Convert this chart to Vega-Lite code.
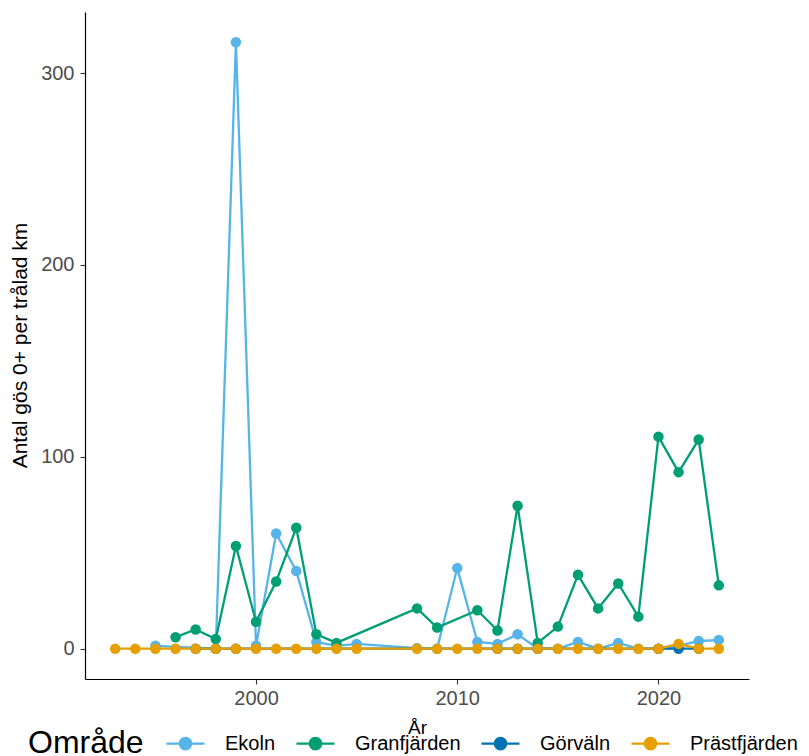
{
  "$schema": "https://vega.github.io/schema/vega-lite/v6.json",
  "width": 664,
  "height": 667,
  "autosize": {"type": "none"},
  "padding": {"left": 85, "top": 12, "right": 60, "bottom": 77},
  "background": "white",
  "config": {
    "view": {"stroke": null},
    "font": "Liberation Sans",
    "axis": {
      "grid": false,
      "domainColor": "#000000",
      "domainWidth": 1.2,
      "tickColor": "#333333",
      "tickWidth": 1.1,
      "tickSize": 5,
      "labelColor": "#4D4D4D",
      "labelFont": "Liberation Sans",
      "labelFontSize": 20,
      "titleFont": "Liberation Sans",
      "titleFontSize": 21,
      "titleFontWeight": "normal",
      "titleColor": "#000000"
    }
  },
  "data": {
    "values": [
      {"ar": 1995, "omrade": "Ekoln", "antal": 1.5},
      {"ar": 1998, "omrade": "Ekoln", "antal": 0},
      {"ar": 1999, "omrade": "Ekoln", "antal": 316},
      {"ar": 2000, "omrade": "Ekoln", "antal": 1.5},
      {"ar": 2001, "omrade": "Ekoln", "antal": 60},
      {"ar": 2002, "omrade": "Ekoln", "antal": 40.5},
      {"ar": 2003, "omrade": "Ekoln", "antal": 3.5},
      {"ar": 2004, "omrade": "Ekoln", "antal": 1.5},
      {"ar": 2005, "omrade": "Ekoln", "antal": 2.5},
      {"ar": 2008, "omrade": "Ekoln", "antal": 0.3},
      {"ar": 2009, "omrade": "Ekoln", "antal": 0},
      {"ar": 2010, "omrade": "Ekoln", "antal": 42},
      {"ar": 2011, "omrade": "Ekoln", "antal": 3.5},
      {"ar": 2012, "omrade": "Ekoln", "antal": 2.5},
      {"ar": 2013, "omrade": "Ekoln", "antal": 7.5},
      {"ar": 2014, "omrade": "Ekoln", "antal": 0},
      {"ar": 2015, "omrade": "Ekoln", "antal": 0},
      {"ar": 2016, "omrade": "Ekoln", "antal": 3.5},
      {"ar": 2017, "omrade": "Ekoln", "antal": 0},
      {"ar": 2018, "omrade": "Ekoln", "antal": 3},
      {"ar": 2019, "omrade": "Ekoln", "antal": 0},
      {"ar": 2020, "omrade": "Ekoln", "antal": 0},
      {"ar": 2021, "omrade": "Ekoln", "antal": 1.5},
      {"ar": 2022, "omrade": "Ekoln", "antal": 4},
      {"ar": 2023, "omrade": "Ekoln", "antal": 4.5},
      {"ar": 1996, "omrade": "Granfjärden", "antal": 6},
      {"ar": 1997, "omrade": "Granfjärden", "antal": 10},
      {"ar": 1998, "omrade": "Granfjärden", "antal": 5},
      {"ar": 1999, "omrade": "Granfjärden", "antal": 53.5},
      {"ar": 2000, "omrade": "Granfjärden", "antal": 14},
      {"ar": 2001, "omrade": "Granfjärden", "antal": 35},
      {"ar": 2002, "omrade": "Granfjärden", "antal": 63},
      {"ar": 2003, "omrade": "Granfjärden", "antal": 7.5},
      {"ar": 2004, "omrade": "Granfjärden", "antal": 3},
      {"ar": 2008, "omrade": "Granfjärden", "antal": 21},
      {"ar": 2009, "omrade": "Granfjärden", "antal": 11},
      {"ar": 2011, "omrade": "Granfjärden", "antal": 20},
      {"ar": 2012, "omrade": "Granfjärden", "antal": 9.5},
      {"ar": 2013, "omrade": "Granfjärden", "antal": 74.5},
      {"ar": 2014, "omrade": "Granfjärden", "antal": 3},
      {"ar": 2015, "omrade": "Granfjärden", "antal": 11.5},
      {"ar": 2016, "omrade": "Granfjärden", "antal": 38.5},
      {"ar": 2017, "omrade": "Granfjärden", "antal": 21},
      {"ar": 2018, "omrade": "Granfjärden", "antal": 34},
      {"ar": 2019, "omrade": "Granfjärden", "antal": 16.7},
      {"ar": 2020, "omrade": "Granfjärden", "antal": 110.5},
      {"ar": 2021, "omrade": "Granfjärden", "antal": 92},
      {"ar": 2022, "omrade": "Granfjärden", "antal": 109},
      {"ar": 2023, "omrade": "Granfjärden", "antal": 33},
      {"ar": 1997, "omrade": "Görväln", "antal": 0},
      {"ar": 1998, "omrade": "Görväln", "antal": 0},
      {"ar": 1999, "omrade": "Görväln", "antal": 0},
      {"ar": 2012, "omrade": "Görväln", "antal": 0},
      {"ar": 2013, "omrade": "Görväln", "antal": 0},
      {"ar": 2014, "omrade": "Görväln", "antal": 0},
      {"ar": 2020, "omrade": "Görväln", "antal": 0},
      {"ar": 2021, "omrade": "Görväln", "antal": 0},
      {"ar": 2022, "omrade": "Görväln", "antal": 0},
      {"ar": 1993, "omrade": "Prästfjärden", "antal": 0},
      {"ar": 1994, "omrade": "Prästfjärden", "antal": 0},
      {"ar": 1995, "omrade": "Prästfjärden", "antal": 0},
      {"ar": 1996, "omrade": "Prästfjärden", "antal": 0},
      {"ar": 1997, "omrade": "Prästfjärden", "antal": 0},
      {"ar": 1998, "omrade": "Prästfjärden", "antal": 0},
      {"ar": 1999, "omrade": "Prästfjärden", "antal": 0},
      {"ar": 2000, "omrade": "Prästfjärden", "antal": 0},
      {"ar": 2001, "omrade": "Prästfjärden", "antal": 0},
      {"ar": 2002, "omrade": "Prästfjärden", "antal": 0},
      {"ar": 2003, "omrade": "Prästfjärden", "antal": 0},
      {"ar": 2004, "omrade": "Prästfjärden", "antal": 0},
      {"ar": 2005, "omrade": "Prästfjärden", "antal": 0},
      {"ar": 2008, "omrade": "Prästfjärden", "antal": 0},
      {"ar": 2009, "omrade": "Prästfjärden", "antal": 0},
      {"ar": 2010, "omrade": "Prästfjärden", "antal": 0},
      {"ar": 2011, "omrade": "Prästfjärden", "antal": 0},
      {"ar": 2012, "omrade": "Prästfjärden", "antal": 0},
      {"ar": 2013, "omrade": "Prästfjärden", "antal": 0},
      {"ar": 2014, "omrade": "Prästfjärden", "antal": 0},
      {"ar": 2015, "omrade": "Prästfjärden", "antal": 0},
      {"ar": 2016, "omrade": "Prästfjärden", "antal": 0},
      {"ar": 2017, "omrade": "Prästfjärden", "antal": 0},
      {"ar": 2018, "omrade": "Prästfjärden", "antal": 0},
      {"ar": 2019, "omrade": "Prästfjärden", "antal": 0},
      {"ar": 2020, "omrade": "Prästfjärden", "antal": 0},
      {"ar": 2021, "omrade": "Prästfjärden", "antal": 2.5},
      {"ar": 2022, "omrade": "Prästfjärden", "antal": 0},
      {"ar": 2023, "omrade": "Prästfjärden", "antal": 0}
    ]
  },
  "encoding": {
    "x": {
      "field": "ar",
      "type": "quantitative",
      "scale": {"domain": [1991.5, 2024.5], "nice": false, "zero": false},
      "axis": {
        "title": "År",
        "values": [2000, 2010, 2020],
        "format": "d",
        "labelPadding": 4,
        "titleFontSize": 19,
        "titleX": 332,
        "titleY": 54,
        "titleBaseline": "alphabetic"
      }
    },
    "y": {
      "field": "antal",
      "type": "quantitative",
      "scale": {"domain": [-15.8, 331.8], "nice": false, "zero": false},
      "axis": {
        "title": "Antal gös 0+ per trålad km",
        "values": [0, 100, 200, 300],
        "labelPadding": 6,
        "titleX": -65,
        "titleY": 333,
        "titleBaseline": "middle",
        "titleAngle": -90
      }
    },
    "color": {
      "field": "omrade",
      "type": "nominal",
      "scale": {
        "domain": ["Ekoln", "Granfjärden", "Görväln", "Prästfjärden"],
        "range": ["#56B4E9", "#009E73", "#0072B2", "#E69F00"]
      },
      "legend": {
        "title": "Område",
        "orient": "none",
        "direction": "horizontal",
        "legendX": -57,
        "legendY": 711,
        "titleOrient": "left",
        "titleFontSize": 32,
        "titleFontWeight": "normal",
        "titleColor": "#000000",
        "titleFont": "Liberation Sans",
        "titlePadding": 21,
        "titleBaseline": "line-top",
        "titleLineHeight": 12,
        "labelFontSize": 20,
        "labelColor": "#000000",
        "labelFont": "Liberation Sans",
        "labelOffset": 19,
        "columnPadding": 15,
        "symbolType": "M-1,0H1M0.3,0A0.3,0.3,0,1,1,-0.3,0A0.3,0.3,0,1,1,0.3,0Z",
        "symbolSize": 1444,
        "symbolStrokeWidth": 2.3,
        "symbolOpacity": 1,
        "padding": 0,
        "encode": {
          "symbols": {
            "update": {
              "stroke": {"scale": "color", "field": "value"},
              "fill": {"scale": "color", "field": "value"},
              "strokeWidth": {"value": 2.3},
              "opacity": {"value": 1}
            }
          }
        }
      }
    }
  },
  "layer": [
    {
      "mark": {"type": "line", "strokeWidth": 2.3}
    },
    {
      "mark": {"type": "point", "filled": true, "size": 110, "opacity": 1}
    }
  ]
}
